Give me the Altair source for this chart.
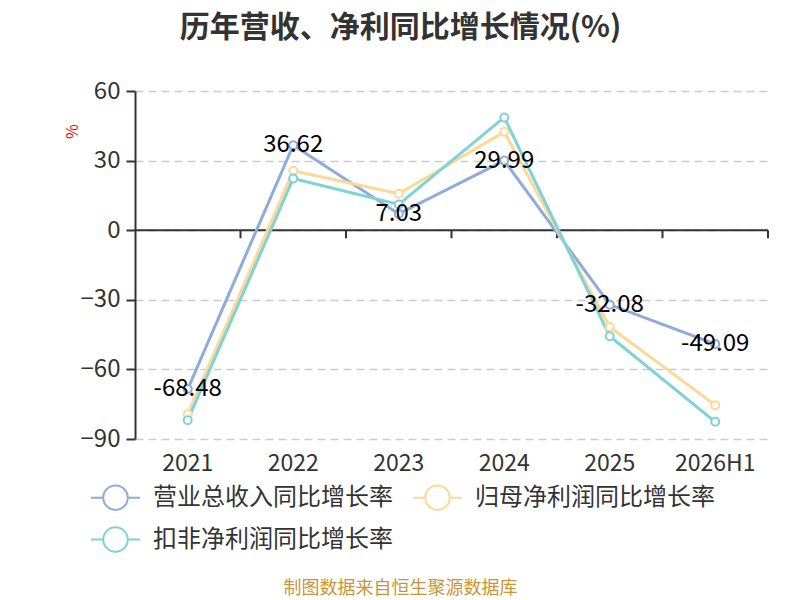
import altair as alt
import pandas as pd

years = ["2021", "2022", "2023", "2024", "2025", "2026H1"]
series_names = ["营业总收入同比增长率", "归母净利润同比增长率", "扣非净利润同比增长率"]
revenue = [-68.48, 36.62, 7.03, 29.99, -32.08, -49.09]
parent_np = [-79.3, 25.6, 15.7, 42.4, -41.7, -75.4]
deduct_np = [-81.9, 22.3, 11.1, 48.6, -45.7, -82.6]
colors = ["#8FAADC", "#FFD898", "#7ED3D6"]

FONT = "Noto Sans CJK SC"

rows = []
for name, vals in zip(series_names, [revenue, parent_np, deduct_np]):
    for y, v in zip(years, vals):
        rows.append({"year": y, "series": name, "value": v, "order": series_names.index(name)})
df = pd.DataFrame(rows)
lab_df = pd.DataFrame({"year": years, "value": revenue, "label": [f"{v:.2f}" for v in revenue]})
tick_df = pd.DataFrame({"year": years, "z": [0] * len(years)})

xscale = alt.Scale(type="band", domain=years, paddingInner=0, paddingOuter=0)
yscale = alt.Scale(domain=[-90, 60], nice=False, zero=False)
cscale = alt.Scale(domain=series_names, range=colors)

x_enc = alt.X("year:N", scale=xscale, sort=years,
              axis=alt.Axis(orient="bottom", domain=False, ticks=False, labelAngle=0,
                            labelAlign="center", labelBaseline="middle",
                            labelFontSize=23, labelColor="#333333", labelFont=FONT,
                            labelPadding=24, grid=False,
                            title="制图数据来自恒生聚源数据库", titleFont=FONT,
                            titleFontSize=18, titleFontWeight="normal", titleColor="#C8963A",
                            titleX=265, titleY=149, titleAlign="center", titleBaseline="middle"))
y_enc = alt.Y("value:Q", scale=yscale,
              axis=alt.Axis(values=[-90, -60, -30, 0, 30, 60], labelFontSize=24,
                            labelColor="#333333", labelFont=FONT, labelPadding=6,
                            tickSize=9, tickWidth=2, tickColor="#333333",
                            domainColor="#333333", domainWidth=2,
                            grid=True, gridColor="#CCCCCC", gridDash=[8, 5], gridWidth=1.5,
                            title="%", titleColor="red", titleFont=FONT, titleFontSize=16,
                            titleFontWeight="normal", titleX=-63, titleY=40,
                            titleAlign="center", titleBaseline="middle", titleAngle=-90))

legend_path = "M-1,0L-0.5,0M0.5,0L1,0M0.5,0A0.5,0.5,0,1,1,-0.5,0A0.5,0.5,0,1,1,0.5,0"

zero_rule = alt.Chart(pd.DataFrame({"v": [0]})).mark_rule(color="#333333", strokeWidth=2).encode(
    y=alt.Y("v:Q", scale=yscale), x=alt.value(0), x2=alt.value(633))

ticks = alt.Chart(tick_df).mark_rule(color="#333333", strokeWidth=2, y2Offset=8).encode(
    x=alt.X("year:N", scale=xscale, sort=years, bandPosition=1),
    y=alt.Y("z:Q", scale=yscale),
    y2=alt.Y2("z:Q"),
)

lines = alt.Chart(df).mark_line(strokeWidth=3).encode(
    x=x_enc, y=y_enc,
    color=alt.Color("series:N", scale=cscale, sort=series_names,
                    legend=alt.Legend(orient="none", legendX=-45, legendY=381, direction="horizontal",
                                      columns=2, title=None, symbolType=legend_path,
                                      symbolSize=2401, symbolStrokeWidth=2,
                                      symbolFillColor="white", labelFontSize=24,
                                      labelFont=FONT, labelColor="#333333", labelOffset=12,
                                      columnPadding=16, rowPadding=-8, labelLimit=400)),
    order="order:Q",
    detail="series:N",
)
points = alt.Chart(df).mark_point(shape="circle", filled=False, fill="white", fillOpacity=1,
                                  strokeWidth=2, size=64, opacity=1).encode(
    x=alt.X("year:N", scale=xscale, sort=years), y=alt.Y("value:Q", scale=yscale),
    color=alt.Color("series:N", scale=cscale, sort=series_names, legend=None),
)
labels = alt.Chart(lab_df).mark_text(fontSize=24, font=FONT, color="#000000",
                                     align="center", baseline="middle").encode(
    x=alt.X("year:N", scale=xscale, sort=years), y=alt.Y("value:Q", scale=yscale),
    text="label:N")

chart = alt.layer(zero_rule, ticks, lines, points, labels).properties(
    width=633, height=348,
    autosize=alt.AutoSizeParams(type="none"),
    padding={"left": 127, "top": 83, "right": 24, "bottom": 160},
    background="white",
    title=alt.TitleParams("历年营收、净利同比增长情况(%)", anchor="middle", dx=-51, offset=36,
                          fontSize=30, font=FONT, fontWeight="bold", color="#333333"),
).configure_view(stroke=None)

chart.save("out.html", embed_options={"renderer": "svg", "actions": False})
